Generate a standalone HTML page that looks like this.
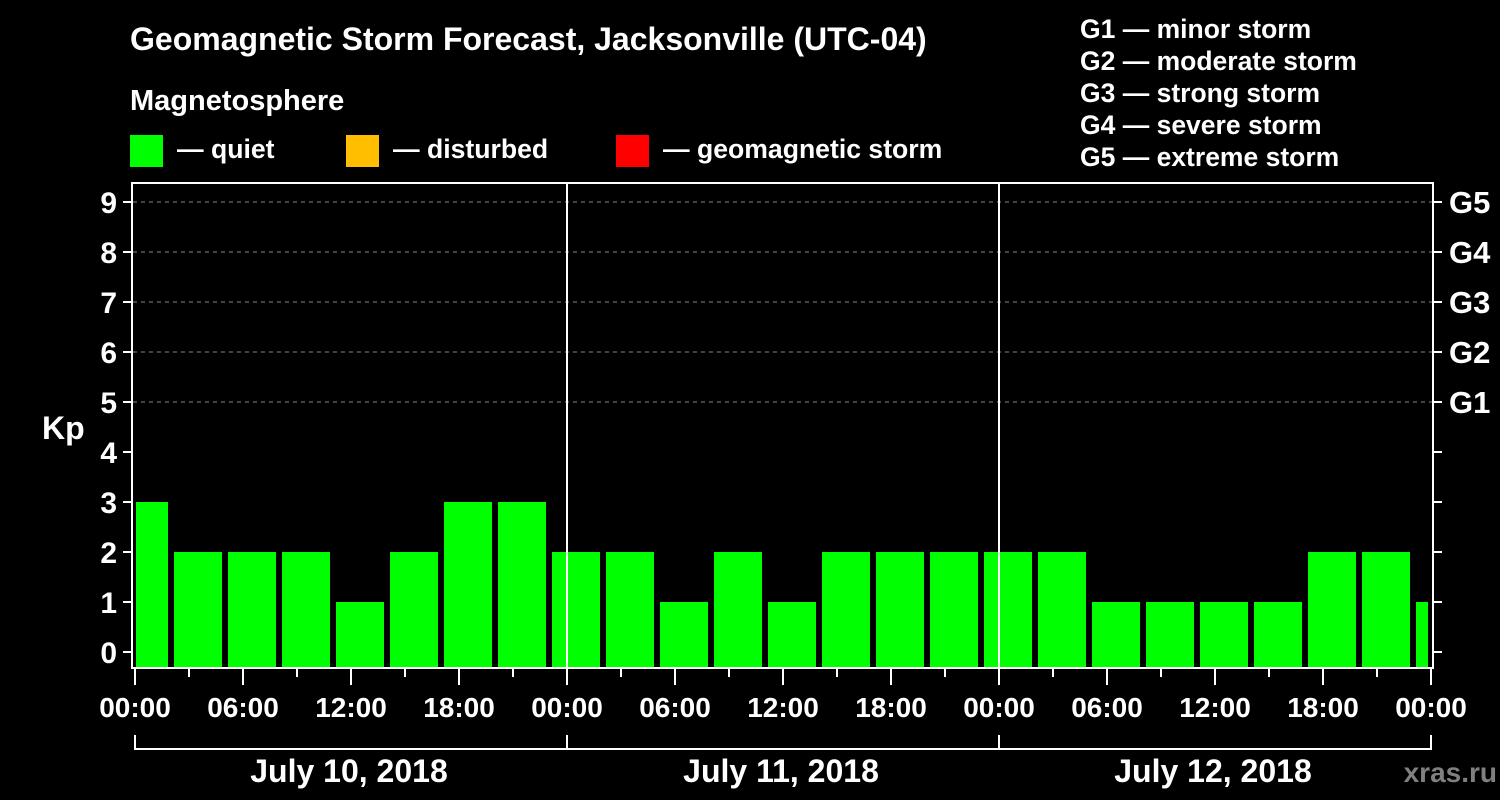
<!DOCTYPE html>
<html><head><style>body{margin:0;background:#000}svg{display:block}text{font-family:"Liberation Sans",Arial,sans-serif;font-weight:bold;fill:#fff}</style></head><body>
<svg width="1500" height="800" xmlns="http://www.w3.org/2000/svg">
<rect width="1500" height="800" fill="#000"/>
<text x="130" y="50" font-size="32">Geomagnetic Storm Forecast, Jacksonville (UTC-04)</text>
<text x="130" y="110" font-size="29">Magnetosphere</text>
<rect x="130" y="135" width="33" height="32" fill="#00ff00"/>
<text x="177" y="158" font-size="26.6">— quiet</text>
<rect x="346" y="135" width="33" height="32" fill="#ffbf00"/>
<text x="393" y="158" font-size="26.6">— disturbed</text>
<rect x="616" y="135" width="33" height="32" fill="#ff0000"/>
<text x="663" y="158" font-size="26.6">— geomagnetic storm</text>
<g font-size="26.5">
<text x="1080" y="38">G1 — minor storm</text>
<text x="1080" y="70">G2 — moderate storm</text>
<text x="1080" y="102">G3 — strong storm</text>
<text x="1080" y="134">G4 — severe storm</text>
<text x="1080" y="166">G5 — extreme storm</text>
</g>
<g stroke="#888" stroke-width="1" stroke-dasharray="4,4">
<line x1="133" x2="1432" y1="202" y2="202"/><line x1="133" x2="1432" y1="252" y2="252"/><line x1="133" x2="1432" y1="302" y2="302"/><line x1="133" x2="1432" y1="352" y2="352"/><line x1="133" x2="1432" y1="402" y2="402"/>
</g>
<g fill="#00ff00" id="bars"></g>
<g stroke="#fff" stroke-width="2" fill="none">
<rect x="132" y="183" width="1301" height="485"/>
<line x1="567" y1="183" x2="567" y2="668"/><line x1="999" y1="183" x2="999" y2="668"/>
<path d="M135 735V749H1431V735M567 735V749M999 735V749"/>
</g>
<g id="ticks" stroke="#fff" stroke-width="2"></g>
<g font-size="30" text-anchor="end" id="yl"></g>
<g font-size="31" id="gl"><text x="1449" y="213">G5</text><text x="1449" y="263">G4</text><text x="1449" y="313">G3</text><text x="1449" y="363">G2</text><text x="1449" y="413">G1</text></g>
<text x="42" y="439" font-size="32">Kp</text>
<g font-size="28" text-anchor="middle" id="xl"></g>
<g font-size="32" text-anchor="middle"><text x="349" y="782">July 10, 2018</text><text x="781" y="782">July 11, 2018</text><text x="1213" y="782">July 12, 2018</text></g>
<text x="1497" y="782" font-size="28" text-anchor="end" style="fill:#808080">xras.ru</text>
</svg>
<script>
var ns="http://www.w3.org/2000/svg";function el(p,t,a,tx){var e=document.createElementNS(ns,t);for(var k in a)e.setAttribute(k,a[k]);if(tx)e.textContent=tx;document.getElementById(p).appendChild(e);}
var v=[3,2,2,2,1,2,3,3,2,2,1,2,1,2,2,2,2,2,1,1,1,1,2,2,1];
v.forEach(function(k,i){var x1=Math.max(136,120+54*i),x2=Math.min(1428,168+54*i);el("bars","rect",{x:x1,y:652-50*k,width:x2-x1,height:16+50*k});});
for(var k=0;k<=9;k++){var y=652-50*k;el("ticks","line",{x1:123,x2:132,y1:y,y2:y});el("ticks","line",{x1:1433,x2:1442,y1:y,y2:y});el("yl","text",{x:117,y:y+11},""+k);}
var lab=["00:00","06:00","12:00","18:00"];
for(var i=0;i<=24;i++){var x=135+54*i;el("ticks","line",{x1:x,x2:x,y1:668,y2:i%2?677:685});if(i%2==0)el("xl","text",{x:x,y:717},lab[(i/2)%4]);}
</script>
</body></html>
